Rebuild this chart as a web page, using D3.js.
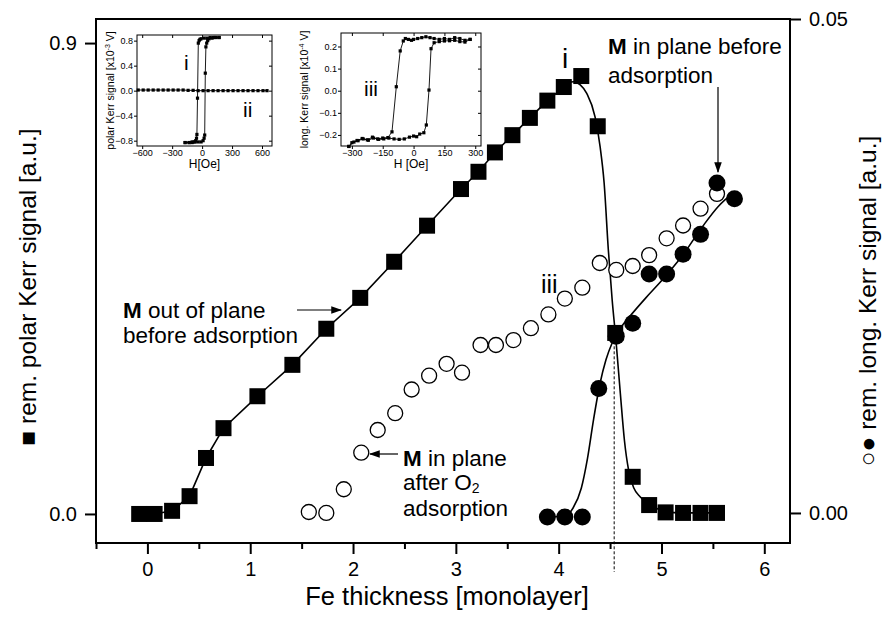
<!DOCTYPE html>
<html>
<head>
<meta charset="utf-8">
<script src="https://cdn.jsdelivr.net/npm/d3@7"></script>
<style>
  html, body { margin: 0; padding: 0; background: #fff; }
  svg { display: block; font-family: Arial, "Liberation Sans", sans-serif; }
</style>
</head>
<body>
<svg id="chart" width="888" height="623"></svg>
<script>
// ---- main panel data: Fe thickness (ML) ----
const polarThick = [-0.08, 0.07, 0.24, 0.41, 0.57, 0.74, 1.07, 1.41, 1.74, 2.07, 2.40, 2.72, 3.05, 3.22, 3.38, 3.55, 3.72, 3.89, 4.05, 4.22, 4.38, 4.55, 4.72, 4.88, 5.04, 5.21, 5.38, 5.54];
const polarKerr  = [0.0, 0.0, 0.006, 0.034, 0.107, 0.164, 0.225, 0.285, 0.354, 0.413, 0.482, 0.551, 0.621, 0.654, 0.691, 0.724, 0.757, 0.790, 0.816, 0.837, 0.741, 0.346, 0.071, 0.017, 0.003, 0.002, 0.002, 0.002];

// fitted drop of the polar signal (thickness, signal)
const polarFitThick = [4.05, 4.10, 4.143, 4.21, 4.273, 4.354, 4.403, 4.442, 4.483, 4.52, 4.558, 4.60, 4.64, 4.68, 4.73, 4.792, 4.889];
const polarFitKerr  = [0.816, 0.824, 0.826, 0.820, 0.804, 0.759, 0.702, 0.633, 0.505, 0.410, 0.330, 0.230, 0.140, 0.084, 0.050, 0.033, 0.017];

// longitudinal signal after O2 adsorption (open circles)
const longAfterThick = [1.57, 1.74, 1.91, 2.08, 2.24, 2.41, 2.57, 2.74, 2.91, 3.06, 3.24, 3.39, 3.56, 3.73, 3.90, 4.06, 4.23, 4.40, 4.56, 4.72, 4.88, 5.05, 5.21, 5.38, 5.54];
const longAfterKerr  = [0.0001, 0.0, 0.0024, 0.0061, 0.0084, 0.0101, 0.0125, 0.0139, 0.0151, 0.0142, 0.0170, 0.0170, 0.0175, 0.0187, 0.0201, 0.0217, 0.0228, 0.0253, 0.0246, 0.0250, 0.0261, 0.0278, 0.0291, 0.0308, 0.0323];

// longitudinal signal before adsorption (filled circles)
const longBeforeThick = [3.89, 4.06, 4.23, 4.39, 4.56, 4.72, 4.88, 5.05, 5.21, 5.38, 5.54, 5.71];
const longBeforeKerr  = [-0.0004, -0.0004, -0.0004, 0.0126, 0.0179, 0.0192, 0.0242, 0.0242, 0.0262, 0.0282, 0.0334, 0.0318];

// fitted rise of the longitudinal signal
const longFitThick = [3.89, 4.06, 4.14, 4.22, 4.28, 4.34, 4.40, 4.46, 4.52, 4.60, 4.70, 4.85, 5.00, 5.20, 5.40, 5.55, 5.71];
const longFitKerr  = [-0.0004, -0.0003, 0.0005, 0.0025, 0.0055, 0.0095, 0.0130, 0.0155, 0.0172, 0.0187, 0.0200, 0.0218, 0.0235, 0.0260, 0.0290, 0.0310, 0.0325];

// axis ticks
const xMajor = [0, 1, 2, 3, 4, 5, 6];
const xMinor = [-0.5, 0.5, 1.5, 2.5, 3.5, 4.5, 5.5];
const yLeftTicks = [0.0, 0.9];
const yRightTicks = [0.00, 0.05];
const transitionThick = 4.54;

// ---- inset i/ii: polar hysteresis loops ----
const loopIUpH   = [170, 140, 110, 80, 50, 20, -10, -22, -30, -38, -46, -52, -56, -64, -80, -100, -130, -170];
const loopIUpM   = [0.85, 0.85, 0.85, 0.85, 0.84, 0.84, 0.83, 0.82, 0.80, 0.76, -0.12, -0.70, -0.76, -0.80, -0.82, -0.82, -0.83, -0.83];
const loopIDownH = [-170, -130, -100, -70, -40, -10, 10, 20, 26, 32, 38, 46, 56, 70, 100, 130, 170];
const loopIDownM = [-0.83, -0.83, -0.83, -0.82, -0.82, -0.82, -0.80, -0.76, -0.71, 0.28, 0.70, 0.76, 0.80, 0.83, 0.84, 0.85, 0.85];
const loopIIH = [-640, -590, -540, -490, -440, -390, -340, -290, -240, -190, -140, -90, -40, 10, 60, 110, 160, 210, 260, 310, 360, 410, 460, 510, 560, 610, 650];
const loopIIM = [0.01, 0.01, 0.01, 0.01, 0.01, 0.01, 0.01, 0.01, 0.01, 0.01, 0.005, 0.005, 0.0, 0.0, 0.0, 0.0, 0.0, 0.0, 0.0, 0.0, 0.0, 0.0, 0.0, 0.0, 0.0, 0.0, 0.0];
const insetAXTicks = [-600, -300, 0, 300, 600];
const insetAYTicks = [-0.8, -0.4, 0.0, 0.4, 0.8];

// ---- inset iii: longitudinal hysteresis loop ----
const loopIIIUpH = [275, 250, 225, 200, 175, 150, 125, 100, 80, 60, 40, 20, 0, -10, -25, -40, -50, -65, -84, -105, -125, -150, -175, -200, -225, -250, -275, -300, -315];
const loopIIIUpM = [0.232, 0.228, 0.236, 0.240, 0.232, 0.236, 0.232, 0.236, 0.240, 0.244, 0.240, 0.236, 0.232, 0.228, 0.232, 0.236, 0.225, 0.180, 0.018, -0.186, -0.212, -0.214, -0.218, -0.210, -0.222, -0.216, -0.225, -0.235, -0.252];
const loopIIIDownH = [-315, -290, -270, -245, -220, -195, -170, -145, -120, -95, -70, -45, -20, 0, 15, 30, 50, 62, 75, 85, 100, 125, 150, 175, 200, 225, 250, 275];
const loopIIIDownM = [-0.252, -0.232, -0.226, -0.218, -0.224, -0.214, -0.220, -0.218, -0.214, -0.218, -0.220, -0.218, -0.210, -0.205, -0.208, -0.196, -0.190, -0.155, 0.003, 0.190, 0.217, 0.222, 0.225, 0.226, 0.228, 0.222, 0.220, 0.232];
const insetBXTicks = [-300, -150, 0, 150, 300];
const insetBYTicks = [-0.2, -0.1, 0.0, 0.1, 0.2];

const svg = d3.select("#chart");
const FONT = "Arial, 'Liberation Sans', sans-serif";
const ink = "#000";

// ---- scales ----
const x  = d3.scaleLinear().domain([-0.5, 6.25]).range([96, 790]);
const yL = d3.scaleLinear().domain([-0.0555, 0.946]).range([543, 19]);
const yR = d3.scaleLinear().domain([-0.00304, 0.05]).range([543, 19]);

// ---- frame ----
svg.append("rect").attr("x", 96).attr("y", 19).attr("width", 694).attr("height", 524)
  .attr("fill", "none").attr("stroke", ink).attr("stroke-width", 2);

function styleAxis(g, size) {
  g.selectAll(".domain").remove();
  g.selectAll("line").attr("stroke", ink).attr("stroke-width", 2);
  g.selectAll("text").attr("fill", ink).attr("font-size", size).attr("font-family", FONT);
}

// bottom axis
const gx = svg.append("g").attr("transform", "translate(0,543)");
gx.call(d3.axisBottom(x).tickValues(xMajor).tickSize(11).tickPadding(8).tickFormat(d3.format("d")));
gx.append("g").call(d3.axisBottom(x).tickValues(xMinor).tickSize(6).tickFormat(""));
styleAxis(gx, 20);

// left axis
const gyl = svg.append("g").attr("transform", "translate(96,0)");
gyl.call(d3.axisLeft(yL).tickValues(yLeftTicks).tickSize(11).tickPadding(8).tickFormat(d3.format(".1f")));
styleAxis(gyl, 20);

// right axis
const gyr = svg.append("g").attr("transform", "translate(790,0)");
gyr.call(d3.axisRight(yR).tickValues(yRightTicks).tickSize(11).tickPadding(8).tickFormat(d3.format(".2f")));
styleAxis(gyr, 20);

// axis titles
svg.append("text").attr("x", 447).attr("y", 605).attr("text-anchor", "middle")
  .attr("font-size", 25.5).attr("fill", ink).text("Fe thickness [monolayer]");
svg.append("text").attr("transform", "translate(36,287) rotate(-90)").attr("text-anchor", "middle")
  .attr("font-size", 24.5).attr("fill", ink).text("\u25A0 rem. polar Kerr signal [a.u.]");
svg.append("text").attr("transform", "translate(876,301) rotate(-90)").attr("text-anchor", "middle")
  .attr("font-size", 24.5).attr("fill", ink).text("\u25CB\u25CF rem. long. Kerr signal [a.u.]");

// transition thickness marker
svg.append("line").attr("x1", x(transitionThick)).attr("x2", x(transitionThick))
  .attr("y1", yL(0.33)).attr("y2", 572)
  .attr("stroke", ink).attr("stroke-width", 1).attr("stroke-dasharray", "3,2");

// ---- lines ----
const lineL = d3.line().x(d => x(d[0])).y(d => yL(d[1]));
const fitL = d3.line().x(d => x(d[0])).y(d => yL(d[1])).curve(d3.curveMonotoneX);
const fitR = d3.line().x(d => x(d[0])).y(d => yR(d[1])).curve(d3.curveMonotoneX);
const pol = d3.zip(polarThick, polarKerr);
const lines = svg.append("g").attr("fill", "none").attr("stroke", ink).attr("stroke-width", 1.6);
lines.append("path").attr("d", lineL(pol.filter(d => d[0] <= 4.06)));
lines.append("path").attr("d", fitL(d3.zip(polarFitThick, polarFitKerr)));
lines.append("path").attr("d", lineL(pol.filter(d => d[0] >= 4.87)));
lines.append("path").attr("d", fitR(d3.zip(longFitThick, longFitKerr)));

// ---- markers ----
const sq = 16;
svg.append("g").selectAll("rect").data(pol).join("rect")
  .attr("x", d => x(d[0]) - sq / 2).attr("y", d => yL(d[1]) - sq / 2)
  .attr("width", sq).attr("height", sq).attr("fill", ink);
svg.append("g").selectAll("circle").data(d3.zip(longAfterThick, longAfterKerr)).join("circle")
  .attr("cx", d => x(d[0])).attr("cy", d => yR(d[1])).attr("r", 7.5)
  .attr("fill", "#fff").attr("stroke", ink).attr("stroke-width", 1.3);
svg.append("g").selectAll("circle").data(d3.zip(longBeforeThick, longBeforeKerr)).join("circle")
  .attr("cx", d => x(d[0])).attr("cy", d => yR(d[1])).attr("r", 8.5)
  .attr("fill", ink);

// ---- labels & annotations ----
const lab = svg.append("g").attr("fill", ink).attr("font-size", 22.5);
lab.append("text").attr("x", 562).attr("y", 68).attr("font-size", 28).text("i");
lab.append("text").attr("x", 541).attr("y", 293).attr("font-size", 25).text("iii");

function mLabel(px, py, rest) {
  const t = lab.append("text").attr("x", px).attr("y", py);
  t.append("tspan").attr("font-weight", "bold").text("M");
  t.append("tspan").text(rest);
}
mLabel(123, 318, " out of plane");
lab.append("text").attr("x", 123).attr("y", 343).text("before adsorption");
mLabel(403, 466, " in plane");
const o2 = lab.append("text").attr("x", 403).attr("y", 490).text("after O");
o2.append("tspan").attr("font-size", 14).attr("dy", 3).text("2");
lab.append("text").attr("x", 403).attr("y", 516).text("adsorption");
mLabel(608, 54, " in plane before");
lab.append("text").attr("x", 608).attr("y", 83).text("adsorption");

// arrows
const defs = svg.append("defs");
defs.append("marker").attr("id", "ah").attr("viewBox", "0 0 10 10").attr("refX", 9).attr("refY", 5)
  .attr("markerWidth", 9).attr("markerHeight", 9).attr("orient", "auto-start-reverse")
  .append("path").attr("d", "M0,1.5 L10,5 L0,8.5 Z").attr("fill", ink);
const arr = svg.append("g").attr("stroke", ink).attr("stroke-width", 1.2);
arr.append("line").attr("x1", 297).attr("y1", 310).attr("x2", 341).attr("y2", 310).attr("marker-end", "url(#ah)");
arr.append("line").attr("x1", 398).attr("y1", 454).attr("x2", 370).attr("y2", 454).attr("marker-end", "url(#ah)");
arr.append("line").attr("x1", 718).attr("y1", 87).attr("x2", 718).attr("y2", 172).attr("marker-end", "url(#ah)");

// ---- hysteresis inset builder ----
function inset(opt) {
  const g = svg.append("g");
  const ix = d3.scaleLinear().domain(opt.xd).range([opt.l, opt.r]);
  const iy = d3.scaleLinear().domain(opt.yd).range([opt.b, opt.t]);
  g.append("rect").attr("x", opt.l).attr("y", opt.t).attr("width", opt.r - opt.l).attr("height", opt.b - opt.t)
    .attr("fill", "#fff").attr("stroke", ink).attr("stroke-width", 1);
  const ax = g.append("g").attr("transform", `translate(0,${opt.b})`)
    .call(d3.axisBottom(ix).tickValues(opt.xt).tickSize(3).tickPadding(1).tickFormat(d3.format("d")));
  const axTop = g.append("g").attr("transform", `translate(0,${opt.t})`)
    .call(d3.axisBottom(ix).tickValues(opt.xt).tickSize(3).tickFormat(""));
  const ay = g.append("g").attr("transform", `translate(${opt.l},0)`)
    .call(d3.axisLeft(iy).tickValues(opt.yt).tickSize(3).tickPadding(1).tickFormat(d3.format(".1f")));
  const ayR = g.append("g").attr("transform", `translate(${opt.r},0)`)
    .call(d3.axisLeft(iy).tickValues(opt.yt).tickSize(3).tickFormat(""));
  [ax, axTop, ay, ayR].forEach(a => {
    a.selectAll(".domain").remove();
    a.selectAll("line").attr("stroke", ink);
    a.selectAll("text").attr("fill", ink).attr("font-size", 9).attr("font-family", FONT);
  });
  g.append("text").attr("x", (opt.l + opt.r) / 2).attr("y", opt.b + 22).attr("text-anchor", "middle")
    .attr("font-size", 12).attr("fill", ink).text(opt.xl);
  const yl = g.append("text").attr("transform", `translate(${opt.ylx},${(opt.t + opt.b) / 2}) rotate(-90)`)
    .attr("text-anchor", "middle").attr("font-size", 10.5).attr("fill", ink);
  yl.append("tspan").text(opt.yl);
  yl.append("tspan").attr("font-size", 7).attr("dy", -4).text(opt.exp);
  yl.append("tspan").attr("dy", 4).text(" V]");
  const ln = d3.line().x(d => ix(d[0])).y(d => iy(d[1]));
  opt.series.forEach(s => {
    const pts = d3.zip(s[0], s[1]);
    g.append("path").attr("d", ln(pts)).attr("fill", "none").attr("stroke", ink).attr("stroke-width", 0.9);
    g.append("g").selectAll("rect").data(pts).join("rect")
      .attr("x", d => ix(d[0]) - 1.6).attr("y", d => iy(d[1]) - 1.6)
      .attr("width", 3.2).attr("height", 3.2).attr("fill", ink);
  });
  return g;
}

const ia = inset({
  l: 137, r: 272, t: 35, b: 146, ylx: 114, xd: [-652, 700], yd: [-0.885, 0.89],
  xt: insetAXTicks, yt: insetAYTicks,
  xl: "H[Oe]", yl: "polar Kerr signal [x10", exp: "-3",
  series: [[loopIUpH, loopIUpM], [loopIDownH, loopIDownM], [loopIIH, loopIIM]]
});
ia.append("text").attr("x", 184).attr("y", 70).attr("font-size", 21).attr("fill", ink).text("i");
ia.append("text").attr("x", 243).attr("y", 117).attr("font-size", 21).attr("fill", ink).text("ii");

const ib = inset({
  l: 341, r: 481, t: 33, b: 146, ylx: 308, xd: [-353, 328], yd: [-0.25, 0.261],
  xt: insetBXTicks, yt: insetBYTicks,
  xl: "H [Oe]", yl: "long. Kerr signal [x10", exp: "-4",
  series: [[loopIIIUpH, loopIIIUpM], [loopIIIDownH, loopIIIDownM]]
});
ib.append("text").attr("x", 364).attr("y", 96).attr("font-size", 21).attr("fill", ink).text("iii");
</script>
</body>
</html>
